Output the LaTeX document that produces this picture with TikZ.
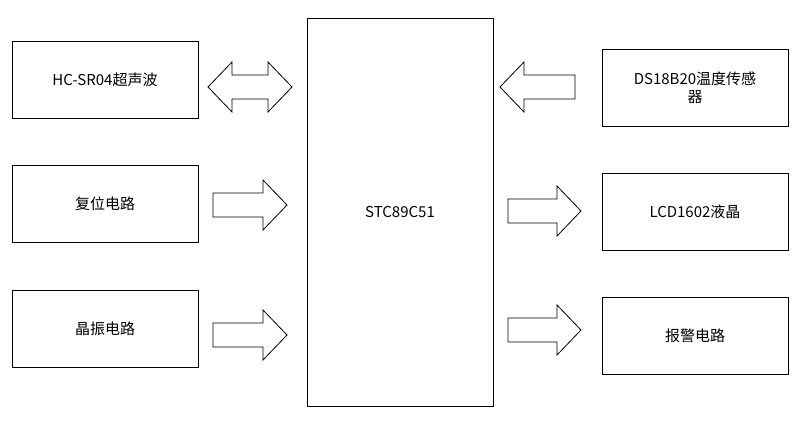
\documentclass[tikz,border=0pt]{standalone}
\usepackage{fontspec}
\setmainfont{Noto Sans CJK SC}
\newcommand\myrarrow[3]{% x1 x2 yc
  \draw[arr] (#1,#3-12) -- (#2-24,#3-12) -- (#2-24,#3-25) -- (#2,#3) -- (#2-24,#3+25) -- (#2-24,#3+12) -- (#1,#3+12) -- cycle;}
\newcommand\mylarrow[3]{%
  \draw[arr] (#2,#3-12) -- (#1+24,#3-12) -- (#1+24,#3-25) -- (#1,#3) -- (#1+24,#3+25) -- (#1+24,#3+12) -- (#2,#3+12) -- cycle;}
\begin{document}
\begin{tikzpicture}[x=1pt,y=-1pt,
  blk/.style={draw,line width=0.8pt,minimum width=186pt,minimum height=77pt,align=center,font=\fontsize{15}{18}\selectfont,text width=170pt},
  arr/.style={draw,line width=0.8pt}]
\useasboundingbox (0,0) rectangle (803,424);
\node[blk] (hc) at (105,80) {HC-SR04超声波};
\node[blk] (fw) at (105,203.5) {复位电路};
\node[blk] (jz) at (105,328.5) {晶振电路};
\node[draw,line width=0.8pt,minimum width=186pt,minimum height=388pt,font=\fontsize{15}{18}\selectfont] (mcu) at (400,212) {STC89C51};
\node[blk] (ds) at (695,87.5) {DS18B20温度传感\\器};
\node[blk] (lcd) at (695,211.5) {LCD1602液晶};
\node[blk] (bj) at (695,336) {报警电路};
% double arrow
\draw[arr] (232,75) -- (268,75) -- (268,62) -- (292,87) -- (268,112) -- (268,99) -- (232,99) -- (232,112) -- (208,87) -- (232,62) -- cycle;
\myrarrow{213}{287}{205}
\myrarrow{213}{287}{335}
\mylarrow{500}{575}{87}
\myrarrow{508}{581}{211}
\myrarrow{508}{581}{330}
\end{tikzpicture}
\end{document}
